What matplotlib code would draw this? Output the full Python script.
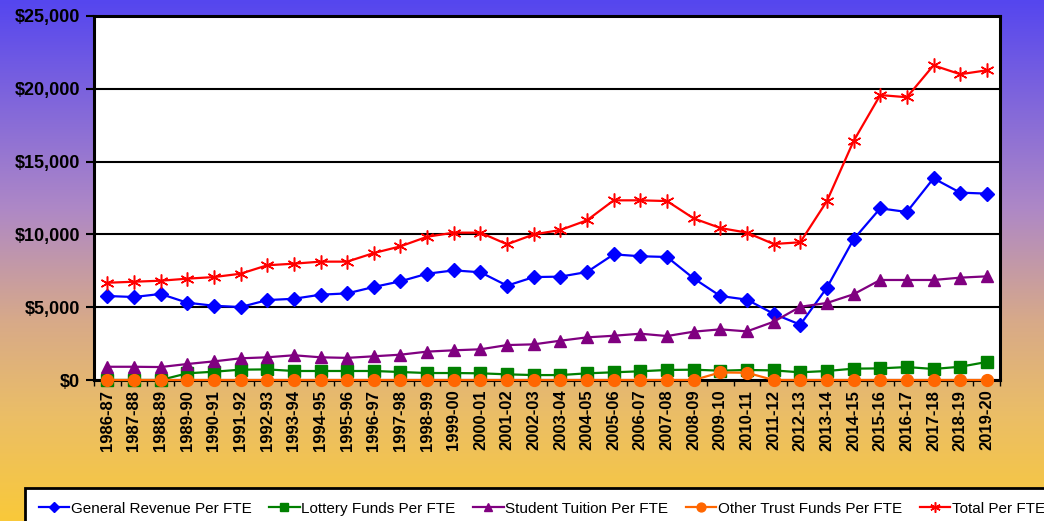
# grafica de financiamiento por FTE, 1986-87 a 2019-20
import numpy as np
import matplotlib.pyplot as plt
from matplotlib.colors import LinearSegmentedColormap
from matplotlib.ticker import FuncFormatter, MultipleLocator

plt.rcParams['font.family'] = ['Liberation Sans', 'DejaVu Sans']

# datos
anios = ['1986-87', '1987-88', '1988-89', '1989-90', '1990-91', '1991-92', '1992-93',
         '1993-94', '1994-95', '1995-96', '1996-97', '1997-98', '1998-99', '1999-00',
         '2000-01', '2001-02', '2002-03', '2003-04', '2004-05', '2005-06', '2006-07',
         '2007-08', '2008-09', '2009-10', '2010-11', '2011-12', '2012-13', '2013-14',
         '2014-15', '2015-16', '2016-17', '2017-18', '2018-19', '2019-20']

general = [5770, 5700, 5910, 5310, 5100, 5010, 5490, 5580, 5860, 5950, 6390, 6780,
           7300, 7530, 7400, 6480, 7070, 7100, 7420, 8630, 8500, 8450, 6980, 5770,
           5520, 4550, 3800, 6340, 9660, 11790, 11540, 13850, 12870, 12800]

loteria = [0, 0, 0, 460, 570, 710, 730, 620, 620, 620, 620, 550, 480, 480, 460, 390,
           340, 340, 460, 530, 600, 690, 710, 640, 690, 660, 530, 620, 780, 800, 890,
           760, 910, 1240]

matricula = [910, 910, 890, 1100, 1280, 1490, 1560, 1700, 1560, 1520, 1630, 1740,
             1950, 2040, 2110, 2400, 2450, 2700, 2930, 3040, 3180, 3020, 3320, 3480,
             3340, 4000, 5030, 5290, 5890, 6870, 6870, 6870, 7030, 7120]

otros = [0, 0, 0, 0, 0, 0, 0, 0, 0, 0, 0, 0, 0, 0, 0, 0, 0, 0, 0, 0, 0, 0, 0, 520,
         500, 0, 0, 0, 0, 0, 0, 0, 0, 0]

total = [6680, 6750, 6820, 6960, 7070, 7300, 7880, 7990, 8130, 8130, 8720, 9180,
         9840, 10120, 10120, 9320, 10000, 10300, 10970, 12340, 12340, 12290, 11100,
         10440, 10120, 9340, 9460, 12290, 16410, 19570, 19420, 21610, 21000, 21270]

nombres = ['General Revenue Per FTE', 'Lottery Funds Per FTE', 'Student Tuition Per FTE',
           'Other Trust Funds Per FTE', 'Total Per FTE']

fig = plt.figure(figsize=(10.44, 5.21), dpi=100)

# fondo degradado azul -> amarillo
fondo = fig.add_axes([0, 0, 1, 1], zorder=-10)
cmap = LinearSegmentedColormap.from_list('fondo', [
    (0.0, '#5546EF'), (0.4, '#AE88C6'), (0.62, '#D8AA88'),
    (0.8, '#EBBE66'), (1.0, '#F9C93A')])
fondo.imshow(np.linspace(0, 1, 256).reshape(-1, 1), aspect='auto', cmap=cmap,
             extent=[0, 1, 0, 1])
fondo.axis('off')

ax = fig.add_axes([0.090, 0.2706, 0.868, 0.6987])
ax.set_facecolor('white')
x = np.arange(len(anios))

ax.plot(x, general, color='#0000FF', marker='D', ms=7, lw=1.6, clip_on=False, zorder=3)
ax.plot(x, loteria, color='#008000', marker='s', ms=8, lw=1.6, clip_on=False, zorder=3)
ax.plot(x, matricula, color='#800080', marker='^', ms=8.5, lw=1.6, clip_on=False, zorder=3)
ax.plot(x, otros, color='#FF6600', marker='o', ms=8.5, lw=1.6, clip_on=False, zorder=4)
ax.plot(x, total, color='#FF0000', marker=(6, 2, 0), ms=10, mew=1.1, lw=1.6,
        clip_on=False, zorder=5)

ax.set_xlim(-0.5, len(anios) - 0.5)
ax.set_ylim(0, 25000)
ax.yaxis.set_major_locator(MultipleLocator(5000))
ax.yaxis.set_major_formatter(FuncFormatter(lambda v, p: '${:,.0f}'.format(v)))
ax.grid(axis='y', color='black', lw=1.5, zorder=1)
ax.set_axisbelow(True)

ax.set_xticks(x)
ax.set_xticklabels(anios, rotation=90, fontsize=12, fontweight='bold')
ax.set_xticks(np.arange(-0.5, len(anios)), minor=True)
ax.tick_params(axis='x', which='major', length=0, pad=7)
ax.tick_params(axis='x', which='minor', length=4, width=1, direction='out')
ax.tick_params(axis='y', length=6, width=1.5, direction='out', labelsize=13, pad=4)
for t in ax.get_yticklabels():
    t.set_fontweight('bold')
for s in ax.spines.values():
    s.set_linewidth(2.2)
    s.set_color('black')

# leyenda en una sola fila, cortada por el borde derecho
leg = fig.legend(nombres, loc='lower left', bbox_to_anchor=(0.024, -0.016), ncol=5,
                 fontsize=11, frameon=True, fancybox=False, framealpha=1,
                 handlelength=2.0, handletextpad=0.1, columnspacing=1.15,
                 borderpad=0.9, borderaxespad=0, markerscale=0.75)
leg.get_frame().set_edgecolor('black')
leg.get_frame().set_linewidth(2)

plt.savefig('out.png', dpi=100)
